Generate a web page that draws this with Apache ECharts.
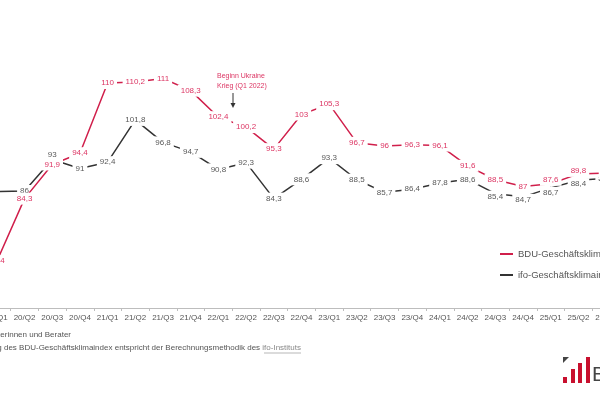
<!DOCTYPE html>
<html>
<head>
<meta charset="utf-8">
<script src="https://cdn.jsdelivr.net/npm/echarts@6/dist/echarts.min.js"></script>
<style>
  html, body { margin: 0; padding: 0; background: #fff; }
  #chart { width: 600px; height: 399px; }
</style>
</head>
<body>
<div id="chart"></div>
<script>
// quarters 2020/Q1 .. 2025/Q3 (first and last are cut off in the picture)
const quarters = ['20/Q1', '20/Q2', '20/Q3', '20/Q4', '21/Q1', '21/Q2', '21/Q3', '21/Q4',
  '22/Q1', '22/Q2', '22/Q3', '22/Q4', '23/Q1', '23/Q2', '23/Q3', '23/Q4',
  '24/Q1', '24/Q2', '24/Q3', '24/Q4', '25/Q1', '25/Q2', '25/Q3']

const bduIndex = [70.4, 84.3, 91.9, 94.4, 110, 110.2, 111, 108.3,
  102.4, 100.2, 95.3, 103, 105.3, 96.7, 96, 96.3,
  96.1, 91.6, 88.5, 87, 87.6, 89.8, 90]

const ifoIndex = [85.9, 86, 93, 91, 92.4, 101.8, 96.8, 94.7,
  90.8, 92.3, 84.3, 88.6, 93.3, 88.5, 85.7, 86.4,
  87.8, 88.6, 85.4, 84.7, 86.7, 88.4, 88.8]

const RED = '#d01f4b'
const RED_TXT = '#dc3563'
const DARK = '#333333'
const FONT = '"Liberation Sans", Arial, sans-serif'

const fmt = (p) => String(p.value).replace('.', ',')

function labelCfg(color) {
  return {
    show: true,
    position: 'inside',
    formatter: fmt,
    color: color,
    fontSize: 8,
    fontFamily: FONT,
    backgroundColor: '#fff',
    padding: [2, 3],
  }
}

// labels nudged apart where the two lines crowd together (like in the source chart)
const ifoNudge = { 2: -5, 18: 3, 19: 3, 20: 5, 21: 4 }
const bduNudge = { 20: -4, 21: -3 }

function withLabels(values, nudge, hideFirst) {
  return values.map((v, i) => {
    const item = { value: v }
    if (nudge[i]) item.label = { offset: [0, nudge[i]] }
    if (hideFirst && i === 0) item.label = { show: false }
    return item
  })
}

const chart = echarts.init(document.getElementById('chart'))

chart.setOption({
  animation: false,
  backgroundColor: '#fff',
  textStyle: { fontFamily: FONT },
  grid: { left: -17, width: 637, top: 38, bottom: 91, outerBoundsMode: 'none', containLabel: false },
  xAxis: {
    type: 'category',
    data: quarters,
    boundaryGap: true,
    axisLine: { lineStyle: { color: '#bdbdbd', width: 1 } },
    axisTick: { show: true, length: 3, lineStyle: { color: '#bdbdbd' } },
    axisLabel: { color: '#555', fontSize: 8, margin: 6, interval: 0, fontFamily: FONT },
  },
  yAxis: {
    type: 'value',
    min: 60,
    max: 120,
    show: false,
    splitLine: { show: false },
  },
  legend: {
    orient: 'vertical',
    left: 500,
    top: 249,
    padding: 0,
    itemWidth: 13,
    itemHeight: 2,
    itemGap: 11,
    textStyle: { color: '#555', fontSize: 9.5, fontFamily: FONT },
    data: [
      { name: 'BDU-Geschäftsklimaindex', icon: 'rect' },
      { name: 'ifo-Geschäftsklimaindex', icon: 'rect' },
    ],
  },
  series: [
    {
      name: 'ifo-Geschäftsklimaindex',
      type: 'line',
      data: withLabels(ifoIndex, ifoNudge, true),
      symbol: 'circle',
      symbolSize: 2,
      itemStyle: { color: DARK },
      lineStyle: { color: DARK, width: 1.5 },
      label: labelCfg('#595959'),
      z: 2,
    },
    {
      name: 'BDU-Geschäftsklimaindex',
      type: 'line',
      data: withLabels(bduIndex, bduNudge, false),
      symbol: 'circle',
      symbolSize: 2,
      itemStyle: { color: RED },
      lineStyle: { color: RED, width: 1.5 },
      label: labelCfg(RED_TXT),
      z: 3,
    },
  ],
  graphic: [
    // annotation: start of the war
    {
      type: 'text', left: 217, top: 71,
      style: { text: 'Beginn Ukraine\nKrieg (Q1 2022)', fill: RED_TXT, fontSize: 7, lineHeight: 10, fontFamily: FONT },
    },
    {
      type: 'line',
      shape: { x1: 233, y1: 93, x2: 233, y2: 104 },
      style: { stroke: '#333', lineWidth: 1 },
    },
    {
      type: 'polygon',
      shape: { points: [[230.5, 103], [235.5, 103], [233, 108]] },
      style: { fill: '#333' },
    },
    // footnotes (cut off on the left)
    {
      type: 'text', right: 529, top: 331,
      style: { text: 'Quelle: BDU-Umfrage unter Unternehmensberaterinnen und Berater', fill: '#555', fontSize: 8, fontFamily: FONT, align: 'right' },
    },
    {
      type: 'text', right: 299, top: 344,
      style: {
        text: '{a|Die Berechnung des BDU-Geschäftsklimaindex entspricht der Berechnungsmethodik des }{b|ifo-Instituts}',
        rich: {
          a: { fill: '#555', fontSize: 8, fontFamily: FONT },
          b: { fill: '#888', fontSize: 8, fontFamily: FONT },
        },
      },
    },
    {
      type: 'line',
      shape: { x1: 264, y1: 353, x2: 301, y2: 353 },
      style: { stroke: '#999', lineWidth: 0.7 },
    },
    // logo
    { type: 'polygon', shape: { points: [[563, 357], [569, 357], [563, 363]] }, style: { fill: '#444' } },
    { type: 'rect', shape: { x: 563, y: 377, width: 4, height: 6 }, style: { fill: '#c8102e' } },
    { type: 'rect', shape: { x: 571, y: 369, width: 4, height: 14 }, style: { fill: '#c8102e' } },
    { type: 'rect', shape: { x: 578, y: 363, width: 4, height: 20 }, style: { fill: '#c8102e' } },
    { type: 'rect', shape: { x: 586, y: 357, width: 4, height: 26 }, style: { fill: '#c8102e' } },
    {
      type: 'text', left: 592, top: 365,
      style: { text: 'BDU', fill: '#444', fontSize: 21, fontFamily: FONT },
    },
  ],
})
</script>
</body>
</html>
